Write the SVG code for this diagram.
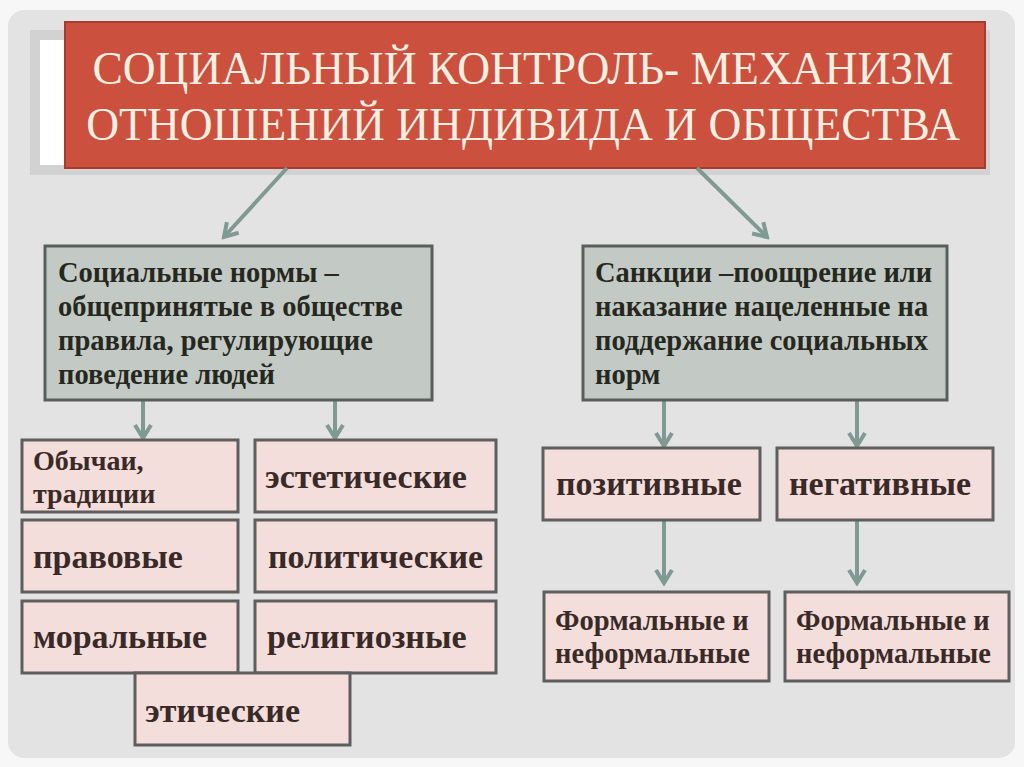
<svg xmlns="http://www.w3.org/2000/svg" width="1024" height="767" viewBox="0 0 1024 767">
<defs>
<style>
.pink{fill:#f3dedb;stroke:#5e5e5e;stroke-width:3}
.gray{fill:#c3cac5;stroke:#5a5e5b;stroke-width:3}
.t{font-family:"Liberation Serif","Times New Roman",serif;font-weight:bold;fill:#3a2a27}
.m{font-family:"Liberation Serif","Times New Roman",serif;font-weight:bold;fill:#262820;font-size:28.5px}
.title{font-family:"Liberation Serif","Times New Roman",serif;fill:#f8efe3;font-size:45.5px}
.c{stroke:#7f9a92;stroke-width:4;fill:none}
</style>
<marker id="ah" viewBox="0 0 20 20" refX="17" refY="10" markerWidth="20" markerHeight="20" markerUnits="userSpaceOnUse" orient="auto">
<path d="M4,2 L17,10 L4,18" fill="none" stroke="#7f9a92" stroke-width="4"/>
</marker>
</defs>
<rect x="0" y="0" width="1024" height="767" fill="#f7f7f7"/>
<rect x="8" y="10" width="1007" height="748" rx="16" fill="#e3e3e3"/>
<rect x="30" y="30" width="960" height="145" fill="#d2d2d2"/>
<rect x="40" y="40" width="940" height="125" fill="#ffffff"/>

<g id="title">
<rect x="65" y="22" width="920" height="146" fill="#cb503d" stroke="#a83c2c" stroke-width="2"/>
<text class="title" x="523" y="84" text-anchor="middle">СОЦИАЛЬНЫЙ КОНТРОЛЬ- МЕХАНИЗМ</text>
<text class="title" x="523" y="140" text-anchor="middle">ОТНОШЕНИЙ ИНДИВИДА И ОБЩЕСТВА</text>
</g>

<g id="connectors">
<line class="c" x1="287" y1="168" x2="224" y2="237" marker-end="url(#ah)"/>
<line class="c" x1="697" y1="168" x2="767" y2="237" marker-end="url(#ah)"/>
<line class="c" x1="143" y1="400" x2="143" y2="438" marker-end="url(#ah)"/>
<line class="c" x1="335" y1="400" x2="335" y2="438" marker-end="url(#ah)"/>
<line class="c" x1="664" y1="400" x2="664" y2="446" marker-end="url(#ah)"/>
<line class="c" x1="857" y1="400" x2="857" y2="446" marker-end="url(#ah)"/>
<line class="c" x1="664" y1="520" x2="664" y2="583" marker-end="url(#ah)"/>
<line class="c" x1="857" y1="520" x2="857" y2="583" marker-end="url(#ah)"/>
</g>

<g id="norms">
<rect class="gray" x="45" y="246" width="387" height="154"/>
<text class="m" x="58" y="282">Социальные нормы –</text>
<text class="m" x="58" y="316">общепринятые в обществе</text>
<text class="m" x="58" y="350">правила, регулирующие</text>
<text class="m" x="58" y="384">поведение людей</text>
</g>

<g id="sanctions">
<rect class="gray" x="583" y="246" width="364" height="154"/>
<text class="m" x="595" y="282">Санкции –поощрение или</text>
<text class="m" x="595" y="316">наказание нацеленные на</text>
<text class="m" x="595" y="350">поддержание социальных</text>
<text class="m" x="595" y="384">норм</text>
</g>

<g id="customs">
<rect class="pink" x="22" y="440" width="216" height="72"/>
<text class="t" x="33" y="470" font-size="28">Обычаи,</text>
<text class="t" x="33" y="503" font-size="28">традиции</text>
</g>
<g id="aesthetic">
<rect class="pink" x="255" y="440" width="241" height="72"/>
<text class="t" x="265" y="488" font-size="34">эстетические</text>
</g>
<g id="legal">
<rect class="pink" x="22" y="520" width="216" height="72"/>
<text class="t" x="33" y="568" font-size="34">правовые</text>
</g>
<g id="political">
<rect class="pink" x="255" y="520" width="241" height="72"/>
<text class="t" x="268" y="568" font-size="34">политические</text>
</g>
<g id="moral">
<rect class="pink" x="22" y="601" width="216" height="72"/>
<text class="t" x="33" y="648" font-size="34">моральные</text>
</g>
<g id="religious">
<rect class="pink" x="255" y="601" width="241" height="72"/>
<text class="t" x="267" y="648" font-size="34">религиозные</text>
</g>
<g id="ethical">
<rect class="pink" x="135" y="673" width="215" height="72"/>
<text class="t" x="145" y="722" font-size="34">этические</text>
</g>

<g id="positive">
<rect class="pink" x="543" y="448" width="217" height="72"/>
<text class="t" x="556" y="495" font-size="34">позитивные</text>
</g>
<g id="negative">
<rect class="pink" x="777" y="448" width="216" height="72"/>
<text class="t" x="789" y="495" font-size="34">негативные</text>
</g>
<g id="formal1">
<rect class="pink" x="544" y="592" width="225" height="89"/>
<text class="t" x="555" y="630" font-size="28.5">Формальные и</text>
<text class="t" x="555" y="663" font-size="28.5">неформальные</text>
</g>
<g id="formal2">
<rect class="pink" x="785" y="592" width="224" height="89"/>
<text class="t" x="796" y="630" font-size="28.5">Формальные и</text>
<text class="t" x="796" y="663" font-size="28.5">неформальные</text>
</g>
</svg>
